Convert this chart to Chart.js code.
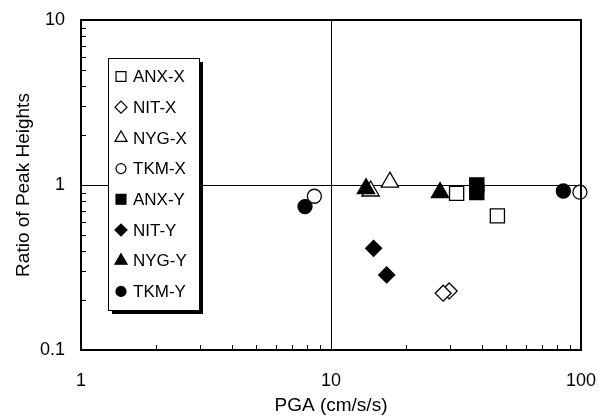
<!DOCTYPE html>
<html>
<head>
<meta charset="utf-8">
<script src="https://cdn.jsdelivr.net/npm/chart.js@4/dist/chart.umd.min.js"></script>
<style>
  body { margin: 0; background: #fff; }
  #wrap { width: 608px; height: 417px; }
</style>
</head>
<body>
<div id="wrap"><canvas id="chart" width="608" height="417"></canvas></div>
<script>
// ─── Data ──────────────────────────────────────────────────
const SERIES_NAMES = ['ANX-X', 'NIT-X', 'NYG-X', 'TKM-X', 'ANX-Y', 'NIT-Y', 'NYG-Y', 'TKM-Y'];

const anxX_pga = [31.8, 46.3];   const anxX_ratio = [0.89, 0.65];
const nitX_pga = [29.7, 28.1];   const nitX_ratio = [0.228, 0.221];
const nygX_pga = [14.4, 17.2];   const nygX_ratio = [0.92, 1.04];
const tkmX_pga = [8.58, 99];     const tkmX_ratio = [0.855, 0.905];
const anxY_pga = [38.3, 38.3];   const anxY_ratio = [1.0, 0.90];
const nitY_pga = [14.8, 16.7];   const nitY_ratio = [0.413, 0.285];
const nygY_pga = [13.8, 27.3];   const nygY_ratio = [0.95, 0.90];
const tkmY_pga = [7.87, 85];     const tkmY_ratio = [0.74, 0.92];

const X_LABELS = [1, 10, 100];
const Y_LABELS = [0.1, 1, 10];
const X_MINOR = [2, 3, 4, 5, 6, 7, 8, 9, 20, 30, 40, 50, 60, 70, 80, 90];
const Y_MINOR = [0.2, 0.3, 0.4, 0.5, 0.6, 0.7, 0.8, 0.9, 2, 3, 4, 5, 6, 7, 8, 9];

const FONT = "'Liberation Sans', Arial, sans-serif";
Chart.defaults.color = '#000';
Chart.defaults.font.family = FONT;

const pts = (xs, ys) => xs.map((x, i) => ({ x, y: ys[i] }));

// marker look per series: [pointStyle, filled, radius]
const MARKERS = {
    'ANX-X': ['rect', false, 10], 'NIT-X': ['rectRot', false, 8],
    'NYG-X': ['triangle', false, 10], 'TKM-X': ['circle', false, 7],
    'ANX-Y': ['rect', true, 10], 'NIT-Y': ['rectRot', true, 8],
    'NYG-Y': ['triangle', true, 10], 'TKM-Y': ['circle', true, 7],
};
const LEGEND_RADIUS = { rect: 7, rectRot: 6, triangle: 7, circle: 5 };

function makeDataset(name, data) {
    const [style, filled, r] = MARKERS[name];
    return {
        label: name,
        data,
        pointStyle: style,
        pointRadius: r,
        pointHoverRadius: r,
        pointBackgroundColor: filled ? '#000' : '#fff',
        pointBorderColor: '#000',
        pointBorderWidth: 1.3,
        showLine: false,
        clip: false,
        order: filled ? 0 : 1,   // filled markers sit on top of open ones
    };
}

const isDecade = v => Math.abs(Math.log10(v) - Math.round(Math.log10(v))) < 1e-6;

// ─── Frame, minor ticks and boxed legend ───────────────────
const decorPlugin = {
    id: 'decor',
    afterDatasetsDraw(chart) {
        const { ctx, chartArea: a, scales: { x, y } } = chart;
        ctx.save();
        ctx.strokeStyle = '#000';
        ctx.lineWidth = 1;
        ctx.beginPath();
        X_MINOR.forEach(v => {
            const px = Math.round(x.getPixelForValue(v)) + 0.5;
            ctx.moveTo(px, a.bottom); ctx.lineTo(px, a.bottom - 5);
        });
        Y_MINOR.forEach(v => {
            const py = Math.round(y.getPixelForValue(v)) + 0.5;
            ctx.moveTo(a.left, py); ctx.lineTo(a.left + 5, py);
        });
        ctx.stroke();
        ctx.lineWidth = 2;
        ctx.strokeRect(a.left, a.top, a.right - a.left, a.bottom - a.top);
        ctx.restore();
    },
    afterDraw(chart) {
        const { ctx } = chart;
        const box = { x: 108, y: 58, w: 91, h: 252 };
        ctx.save();
        ctx.fillStyle = '#000';
        ctx.fillRect(box.x + 4, box.y + 4, box.w, box.h);
        ctx.fillStyle = '#fff';
        ctx.fillRect(box.x, box.y, box.w, box.h);
        ctx.strokeStyle = '#000';
        ctx.lineWidth = 1;
        ctx.strokeRect(box.x + 0.5, box.y + 0.5, box.w, box.h);

        ctx.font = '17px ' + FONT;
        ctx.textBaseline = 'middle';
        ctx.textAlign = 'left';
        chart.data.datasets.forEach((ds, i) => {
            const cy = 76.5 + i * 30.7;
            ctx.fillStyle = ds.pointBackgroundColor;
            ctx.strokeStyle = '#000';
            ctx.lineWidth = 1.2;
            Chart.helpers.drawPoint(ctx, {
                pointStyle: ds.pointStyle,
                radius: LEGEND_RADIUS[ds.pointStyle],
                rotation: 0,
                borderWidth: 1.2,
            }, 121, cy);
            ctx.fillStyle = '#000';
            ctx.fillText(ds.label, 133, cy + 1);
        });
        ctx.restore();
    },
};

new Chart(document.getElementById('chart'), {
    type: 'scatter',
    data: {
        datasets: [
            makeDataset('ANX-X', pts(anxX_pga, anxX_ratio)),
            makeDataset('NIT-X', pts(nitX_pga, nitX_ratio)),
            makeDataset('NYG-X', pts(nygX_pga, nygX_ratio)),
            makeDataset('TKM-X', pts(tkmX_pga, tkmX_ratio)),
            makeDataset('ANX-Y', pts(anxY_pga, anxY_ratio)),
            makeDataset('NIT-Y', pts(nitY_pga, nitY_ratio)),
            makeDataset('NYG-Y', pts(nygY_pga, nygY_ratio)),
            makeDataset('TKM-Y', pts(tkmY_pga, tkmY_ratio)),
        ],
    },
    options: {
        responsive: false,
        animation: false,
        layout: { padding: { top: 20, right: 27, left: 0, bottom: 0 } },
        plugins: { legend: { display: false }, tooltip: { enabled: false } },
        scales: {
            x: {
                type: 'logarithmic',
                min: 1, max: 100,
                afterFit: s => { s.height = 67; s.paddingLeft = 0; s.paddingRight = 0; },
                border: { display: false },
                grid: {
                    drawTicks: false,
                    lineWidth: 1,
                    color: c => (c.tick && c.tick.value === 10 ? '#000' : 'rgba(0,0,0,0)'),
                },
                ticks: {
                    autoSkip: false, maxRotation: 0, padding: 20,
                    font: { size: 18 },
                    callback: v => (X_LABELS.includes(v) ? String(v) : ''),
                },
                title: {
                    display: true, text: 'PGA (cm/s/s)',
                    font: { size: 19 }, padding: { top: 0, bottom: 0 },
                },
            },
            y: {
                type: 'logarithmic',
                min: 0.1, max: 10,
                afterFit: s => { s.width = 81; s.paddingTop = 0; s.paddingBottom = 0; },
                border: { display: false },
                grid: {
                    drawTicks: false,
                    lineWidth: 1,
                    color: c => (c.tick && Math.abs(c.tick.value - 1) < 1e-9 ? '#000' : 'rgba(0,0,0,0)'),
                },
                ticks: {
                    autoSkip: false, padding: 16,
                    font: { size: 18 },
                    callback: v => (isDecade(v) && Y_LABELS.some(l => Math.abs(l - v) < 1e-9) ? String(v) : ''),
                },
                title: {
                    display: true, text: 'Ratio of Peak Heights',
                    font: { size: 19 }, padding: { top: 12, bottom: 0 },
                },
            },
        },
    },
    plugins: [decorPlugin],
});
</script>
</body>
</html>
